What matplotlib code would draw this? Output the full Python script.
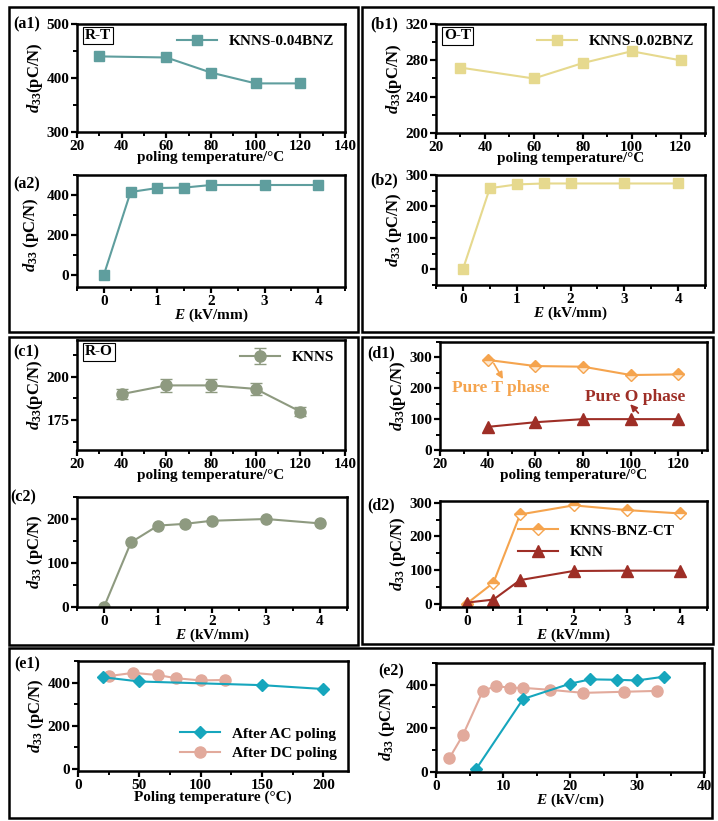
import matplotlib
matplotlib.use("Agg")
import matplotlib.pyplot as plt
from matplotlib import font_manager as fm
from matplotlib.patches import Rectangle
from matplotlib.ticker import MultipleLocator

plt.rcParams['font.family'] = ['Liberation Serif', 'DejaVu Serif']
plt.rcParams['font.weight'] = 'bold'
plt.rcParams['axes.labelweight'] = 'bold'
plt.rcParams['mathtext.fontset'] = 'custom'
plt.rcParams['mathtext.rm'] = 'Liberation Serif:bold'
plt.rcParams['mathtext.it'] = 'Liberation Serif:italic:bold'
plt.rcParams['mathtext.bf'] = 'Liberation Serif:bold'

BOLD_PATH = fm.findfont(fm.FontProperties(family='Liberation Serif', weight='bold'))

# ---------------- data ----------------
a1_T = [30, 60, 80, 100, 120]
a1_d = [440, 438, 410, 390, 390]
a2_E = [0, 0.5, 1, 1.5, 2, 3, 4]
a2_d = [0, 415, 435, 437, 450, 450, 450]

b1_T = [30, 60, 80, 100, 120]
b1_d = [272, 260, 277, 290, 280]
b2_E = [0, 0.5, 1, 1.5, 2, 3, 4]
b2_d = [0, 258, 270, 273, 273, 273, 273]

c1_T = [40, 60, 80, 100, 120]
c1_d = [190, 195, 195, 193, 180]
c1_err = [3, 3.5, 3.5, 3.5, 2.5]
c2_E = [0, 0.5, 1, 1.5, 2, 3, 4]
c2_d = [0, 147, 185, 189, 196, 200, 190]

d1_T = [40, 60, 80, 100, 120]
d1_T_phase = [292, 272, 270, 243, 245]
d1_O_phase = [75, 90, 100, 100, 100]
d2_E = [0, 0.5, 1, 2, 3, 4]
d2_knns = [0, 62, 265, 292, 278, 268]
d2_knn = [3, 12, 70, 97, 98, 98]

e1_T_ac = [20, 50, 150, 200]
e1_d_ac = [425, 405, 388, 370]
e1_T_dc = [25, 45, 65, 80, 100, 120]
e1_d_dc = [430, 445, 435, 420, 410, 412]

e2_E_ac = [6, 13, 20, 23, 27, 30, 34]
e2_d_ac = [14, 335, 405, 425, 423, 420, 437]
e2_E_dc = [2, 4, 7, 9, 11, 13, 17, 22, 28, 33]
e2_d_dc = [64, 168, 372, 395, 386, 386, 377, 363, 368, 372]

# ---------------- style ----------------
W, H = 718, 821
fig = plt.figure(figsize=(W / 100, H / 100), dpi=100)

C_A = '#5f9e9e'
C_B = '#e6d98e'
C_C = '#8e9a80'
C_D1 = '#f5a44e'
C_D2 = '#9e2e26'
C_AC = '#16a6bd'
C_DC = '#e2aa9c'

TICK_FS = 11
XLAB_FS = 11
YLAB_FS = 12
BW = 'bold'


def axes_px(l, r, t, b):
    return fig.add_axes([l / W, 1 - b / H, (r - l) / W, (b - t) / H])


def style(ax, xmaj, xmin, ymaj, ymin):
    for s in ax.spines.values():
        s.set_linewidth(1.8)
    ax.xaxis.set_major_locator(MultipleLocator(xmaj))
    ax.xaxis.set_minor_locator(MultipleLocator(xmin))
    ax.yaxis.set_major_locator(MultipleLocator(ymaj))
    ax.yaxis.set_minor_locator(MultipleLocator(ymin))
    ax.tick_params(which='major', direction='out', length=4, width=1.6,
                   labelsize=TICK_FS, pad=1.5)
    ax.tick_params(which='minor', direction='out', length=3, width=1.4)


def box(l, t, r, b):
    fig.patches.append(Rectangle((l / W, 1 - b / H), (r - l) / W, (b - t) / H,
                                 transform=fig.transFigure, fill=False,
                                 lw=1.8, ec='black'))


def plabel(txt, x, y):
    fig.text(x / W, 1 - y / H, txt, fontsize=11.5, fontweight=BW,
             ha='left', va='center')


def labels(ax, xl, yl):
    ax.set_xlabel(xl, fontsize=XLAB_FS, fontweight=BW, labelpad=-1)
    ax.set_ylabel(yl, fontsize=YLAB_FS, fontweight=BW, labelpad=1)


def tag(ax, txt):
    ax.text(0.03, 0.86, txt, transform=ax.transAxes, fontsize=11, fontweight=BW,
            bbox=dict(boxstyle='square,pad=0.15', fc='white', ec='black', lw=0.8))


box(9, 7, 358, 332)
box(362, 7, 713, 332)
box(9, 337, 358, 645)
box(362, 337, 713, 644)
box(9, 648, 712, 818)

YL1 = r'$d_{33}$(pC/N)'
YL2 = r'$d_{33}$ (pC/N)'
XT = 'poling temperature/°C'
XE = r'$E$ (kV/mm)'
LEGP = {'weight': 'bold', 'size': 11}

# ---------------- (a1) ----------------
ax = axes_px(77, 345, 24, 132)
ax.plot(a1_T, a1_d, '-s', color=C_A, ms=7, lw=1.5, label='KNNS-0.04BNZ')
ax.set_xlim(20, 140)
ax.set_ylim(300, 500)
style(ax, 20, 10, 100, 50)
labels(ax, XT, YL1)
ax.legend(loc='upper right', frameon=False, handlelength=2.6,
          borderaxespad=0.3, prop=LEGP)
tag(ax, 'R-T')
plabel('(a1)', 13, 24)

# ---------------- (a2) ----------------
ax = axes_px(77, 345, 175, 287)
ax.plot(a2_E, a2_d, '-s', color=C_A, ms=7, lw=1.5)
ax.set_xlim(-0.5, 4.5)
ax.set_ylim(-60, 500)
style(ax, 1, 0.5, 200, 100)
labels(ax, XE, YL2)
ax.yaxis.set_label_coords(-0.135, 0.47)
plabel('(a2)', 13, 184)

# ---------------- (b1) ----------------
ax = axes_px(436, 705, 24, 133)
ax.plot(b1_T, b1_d, '-s', color=C_B, ms=7, lw=1.5, label='KNNS-0.02BNZ')
ax.set_xlim(20, 130)
ax.set_ylim(200, 320)
style(ax, 20, 10, 40, 20)
labels(ax, XT, YL1)
ax.legend(loc='upper right', frameon=False, handlelength=2.6,
          borderaxespad=0.3, prop=LEGP)
tag(ax, 'O-T')
plabel('(b1)', 370, 24)

# ---------------- (b2) ----------------
ax = axes_px(436, 705, 175, 285)
ax.plot(b2_E, b2_d, '-s', color=C_B, ms=7, lw=1.5)
ax.set_xlim(-0.5, 4.5)
ax.set_ylim(-50, 300)
style(ax, 1, 0.5, 100, 50)
labels(ax, XE, YL2)
plabel('(b2)', 370, 180)

# ---------------- (c1) ----------------
ax = axes_px(77, 345, 340, 450)
ax.errorbar(c1_T, c1_d, yerr=c1_err, fmt='-o', color=C_C, ms=8, lw=1.5,
            capsize=4, elinewidth=1.2, label='KNNS')
ax.set_xlim(20, 140)
ax.set_ylim(158, 221)
style(ax, 20, 10, 25, 12.5)
labels(ax, XT, YL1)
h, l = ax.get_legend_handles_labels()
ax.legend(h, l, loc='upper right', frameon=False, handlelength=2.6,
          borderaxespad=0.3, prop=LEGP)
tag(ax, 'R-O')
plabel('(c1)', 13, 352)

# ---------------- (c2) ----------------
ax = axes_px(77, 347, 497, 607)
ax.plot(c2_E, c2_d, '-o', color=C_C, ms=8, lw=1.5)
ax.set_xlim(-0.5, 4.5)
ax.set_ylim(0, 250)
style(ax, 1, 0.5, 100, 50)
labels(ax, XE, YL2)
plabel('(c2)', 10, 497)

# ---------------- (d1) ----------------
ax = axes_px(440, 707, 342, 450)
ax.errorbar(d1_T, d1_T_phase, yerr=10, fmt='-D', color=C_D1, ms=6, lw=1.5,
            fillstyle='top', markerfacecoloralt='#fde8d0', elinewidth=0.8)
ax.errorbar(d1_T, d1_O_phase, yerr=15, fmt='-^', color=C_D2, ms=8, lw=1.5,
            elinewidth=0.8)
ax.set_xlim(20, 132)
ax.set_ylim(0, 350)
style(ax, 20, 10, 100, 50)
labels(ax, XT, YL1)
ax.text(25, 202, 'Pure T phase', color=C_D1, fontsize=12.5, fontweight=BW,
        ha='left', va='center')
ax.annotate('', xy=(47, 222), xytext=(42, 288),
            arrowprops=dict(arrowstyle='-|>', color=C_D1, lw=1.2))
ax.text(81, 172, 'Pure O phase', color=C_D2, fontsize=12.5, fontweight=BW,
        ha='left', va='center')
ax.annotate('', xy=(99, 155), xytext=(104, 113),
            arrowprops=dict(arrowstyle='-|>', color=C_D2, lw=1.2))
plabel('(d1)', 367, 353)

# ---------------- (d2) ----------------
ax = axes_px(440, 707, 501, 607)
ax.plot(d2_E, d2_knns, '-D', color=C_D1, ms=6, lw=1.5, fillstyle='top',
        markerfacecoloralt='white', label='KNNS-BNZ-CT')
ax.plot(d2_E, d2_knn, '-^', color=C_D2, ms=8, lw=1.5, label='KNN')
ax.set_xlim(-0.5, 4.5)
ax.set_ylim(-10, 305)
style(ax, 1, 0.5, 100, 50)
labels(ax, XE, YL2)
ax.legend(loc='upper left', bbox_to_anchor=(0.27, 0.84), frameon=False,
          handlelength=2.6, labelspacing=0.5, borderaxespad=0,
          prop={'weight': 'bold', 'size': 11})
plabel('(d2)', 367, 505)

# ---------------- (e1) ----------------
ax = axes_px(78, 348, 661, 771)
ax.plot(e1_T_dc, e1_d_dc, '-o', color=C_DC, ms=8, lw=1.5, label='After DC poling')
ax.plot(e1_T_ac, e1_d_ac, '-D', color=C_AC, ms=6.5, lw=1.5, label='After AC poling')
ax.set_xlim(0, 220)
ax.set_ylim(-10, 500)
style(ax, 50, 25, 200, 100)
labels(ax, 'Poling temperature (°C)', YL2)
h, l = ax.get_legend_handles_labels()
ax.legend(h[::-1], l[::-1], loc='lower right', frameon=False, handlelength=2.6,
          labelspacing=0.4, borderaxespad=0.3,
          prop={'weight': 'bold', 'size': 11})
plabel('(e1)', 14, 664)

# ---------------- (e2) ----------------
ax = axes_px(436, 704, 663, 772)
ax.plot(e2_E_dc, e2_d_dc, '-o', color=C_DC, ms=8, lw=1.5)
ax.plot(e2_E_ac, e2_d_ac, '-D', color=C_AC, ms=6.5, lw=1.5)
ax.set_xlim(0, 40)
ax.set_ylim(0, 500)
style(ax, 10, 5, 200, 100)
labels(ax, r'$E$ (kV/cm)', YL2)
ax.yaxis.set_label_coords(-0.145, 0.44)
plabel('(e2)', 378, 671)

# force bold tick labels
fig.canvas.draw()
for a in fig.axes:
    for t in a.xaxis.get_major_ticks() + a.yaxis.get_major_ticks():
        t.label1.set_fontproperties(fm.FontProperties(fname=BOLD_PATH, size=TICK_FS))

fig.savefig('out.png', dpi=100)
